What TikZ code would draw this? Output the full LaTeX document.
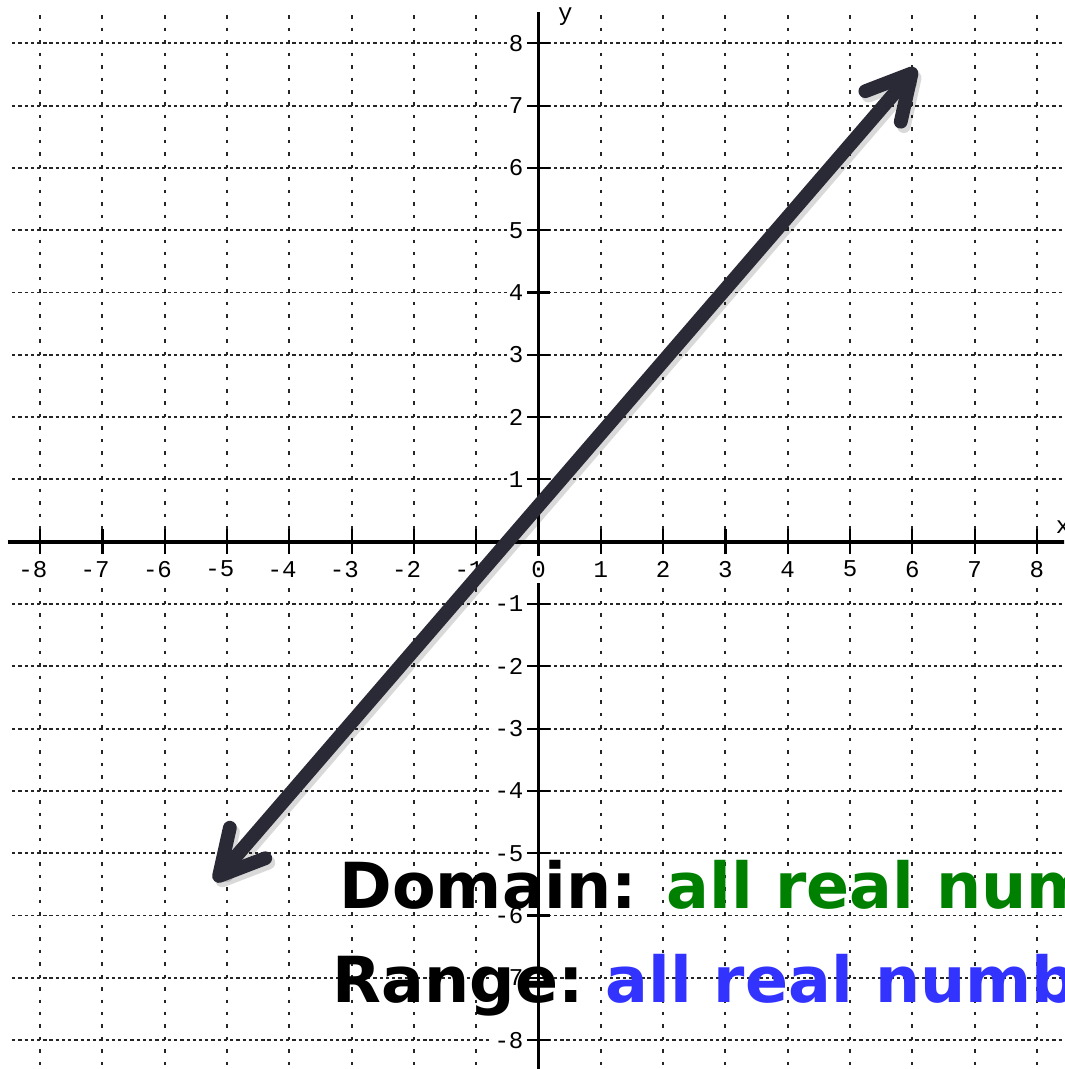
\documentclass[tikz,border=0pt]{standalone}
\usepackage{fontspec}
\setmonofont{Liberation Mono}
\newfontfamily\captionfont{DejaVu Sans}
\usepackage{tikz}
\usetikzlibrary{arrows.meta}
\definecolor{linecol}{HTML}{2A2A36}
\definecolor{domgreen}{HTML}{008000}
\definecolor{rangeblue}{HTML}{3333FF}

\begin{document}
\begin{tikzpicture}[>={Straight Barb[length=7mm, width=7.5mm, round]}]
\tikzstyle{grid} = [line width=0.9pt, black!85]
\tikzstyle{hgrid} = [grid, dash pattern=on 1.5pt off 1.345pt]
\tikzstyle{vgrid} = [grid, dash pattern=on 1.6pt off 4.09pt]
\tikzstyle{axis} = [line width=1.8pt]
\tikzstyle{tick} = [line width=1pt]
\tikzstyle{num} = [fill=white, inner sep=1pt, font=\ttfamily\fontsize{11}{11}\selectfont]
\tikzstyle{xnum} = [num, minimum height=0.43cm]
\tikzstyle{ynum} = [num, anchor=east]
\tikzstyle{line} = [draw, <->, line width=6.3pt, linecol, line cap=round]
\tikzstyle{caption} = [anchor=base west, inner sep=0pt, font=\captionfont\bfseries\fontsize{29}{34}\selectfont]

\useasboundingbox (-8.644,-8.464) rectangle (8.435,8.695);
\clip (-8.644,-8.464) rectangle (8.435,8.695);

% grid
\foreach \k in {-8,...,8} {
  \draw [hgrid] (-8.45,\k) -- (8.5,\k);
  \draw [vgrid] (\k,8.45) -- (\k,-8.5);
}

% axes and ticks
\draw [axis] (-8.52,0) -- (8.5,0);
\draw [axis] (0,8.5) -- (0,-8.5);
\foreach \k in {-8,...,-1,1,2,...,8} {
  \draw [tick] (\k,-0.2) -- (\k,0.2);
  \draw [tick] (-0.18,\k) -- (0.18,\k);
}
\draw [tick] (0,-0.2) -- (0,0.2);

% numbers
\node [xnum] (x0) at (0,-0.44) {0};
\foreach \k in {1,...,8} {
  \node [xnum] (xp\k) at (\k,-0.44) {\k};
  \node [xnum] (xn\k) at (-\k,-0.44) {\llap{-}\k};
  \node [ynum] (yp\k) at (-0.2,\k) {\k};
  \node [ynum] (yn\k) at (-0.2,-\k) {-\k};
}
\node [num] (xlabel) at (8.42,0.24) {x};
\node [num] (ylabel) at (0.43,8.42) {y};

% the line
\coordinate (lo) at (-5.2,-5.45);
\coordinate (hi) at (6.06,7.6);
\draw [line, black, opacity=0.15, transform canvas={shift={(0.05,-0.07)}}] (lo) -- (hi);
\draw [line] (lo) -- (hi);

% text
\node [caption] (domain) at (-3.2,-5.88) {Domain: \textcolor{domgreen}{all real numbers}};
\node [caption] (range) at (-3.31,-7.40) {Range:\hspace{-0.12em} \textcolor{rangeblue}{all real numbers}};
\end{tikzpicture}
\end{document}
